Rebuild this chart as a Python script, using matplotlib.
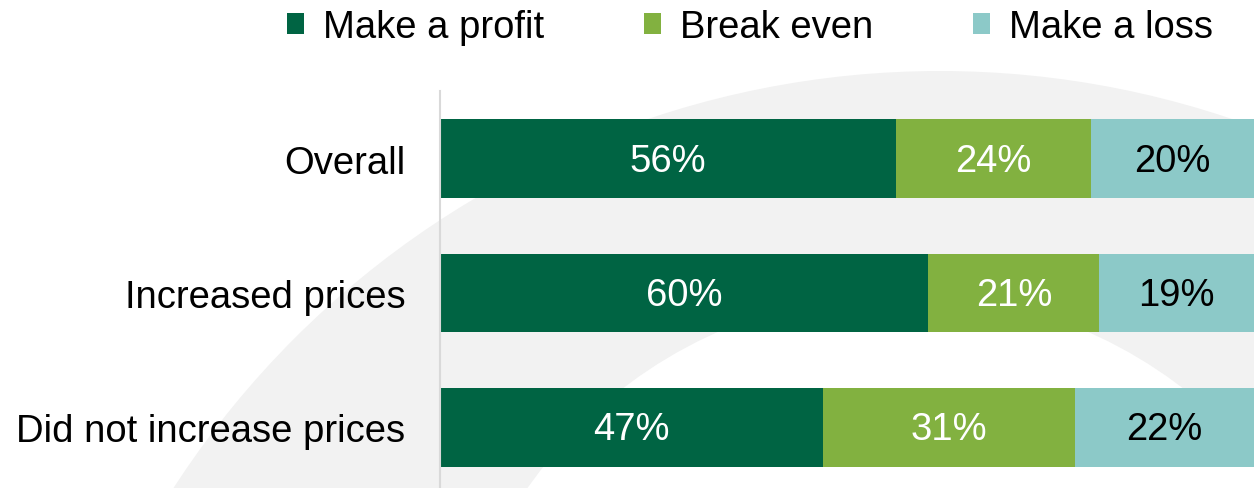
import matplotlib
matplotlib.use("Agg")
import matplotlib.pyplot as plt
from matplotlib.patches import Circle, Patch

plt.rcParams['font.family'] = ['Liberation Sans', 'DejaVu Sans']

# data
categories = ['Overall', 'Increased prices', 'Did not increase prices']
series_names = ['Make a profit', 'Break even', 'Make a loss']
profit = [56, 60, 47]
break_even = [24, 21, 31]
loss = [20, 19, 22]

colors = ['#006443', '#82b140', '#8cc9c8']
text_colors = ['white', 'white', 'black']
fs = 27.5

fig = plt.figure(figsize=(12.54, 4.89), dpi=100)

# decorative background ring (pixel coordinates)
bg = fig.add_axes([0, 0, 1, 1], zorder=0)
bg.set_xlim(0, 1254)
bg.set_ylim(489, 0)
bg.axis('off')
bg.add_patch(Circle((940, 985), 913, facecolor='#f2f2f2', edgecolor='none'))
bg.add_patch(Circle((903, 753), 459, facecolor='white', edgecolor='none'))

ax = fig.add_axes([440 / 1254, 0, 1 - 440 / 1254, 1 - 92 / 489], zorder=1)
ax.set_facecolor('none')

y = list(range(len(categories)))
left = [0] * len(categories)
for vals, col, tcol in zip([profit, break_even, loss], colors, text_colors):
    bars = ax.barh(y, vals, left=left, height=0.587, color=col, edgecolor='none')
    for b, v in zip(bars, vals):
        ax.text(b.get_x() + b.get_width() / 2, b.get_y() + b.get_height() / 2 + 0.015,
                f'{v}%', ha='center', va='center', color=tcol, fontsize=fs)
    left = [l + v for l, v in zip(left, vals)]

ax.set_xlim(0, 100)
ax.set_ylim(2.45, -0.502)
ax.set_yticks(y)
ax.set_yticklabels(categories, fontsize=fs)
ax.tick_params(axis='y', length=0, pad=25)
ax.set_xticks([])
for s in ['top', 'right', 'bottom']:
    ax.spines[s].set_visible(False)
ax.spines['left'].set_color('#d9d9d9')
ax.spines['left'].set_linewidth(1.5)

handles = [Patch(facecolor=c, edgecolor='none') for c in colors]
fig.legend(handles, series_names, loc='center', bbox_to_anchor=(750 / 1254, 1 - 28 / 489),
           ncol=3, frameon=False, fontsize=fs, handlelength=0.45, handleheight=0.45,
           handletextpad=0.5, columnspacing=2.6, borderpad=0, borderaxespad=0)

fig.savefig('out.png', dpi=100)
